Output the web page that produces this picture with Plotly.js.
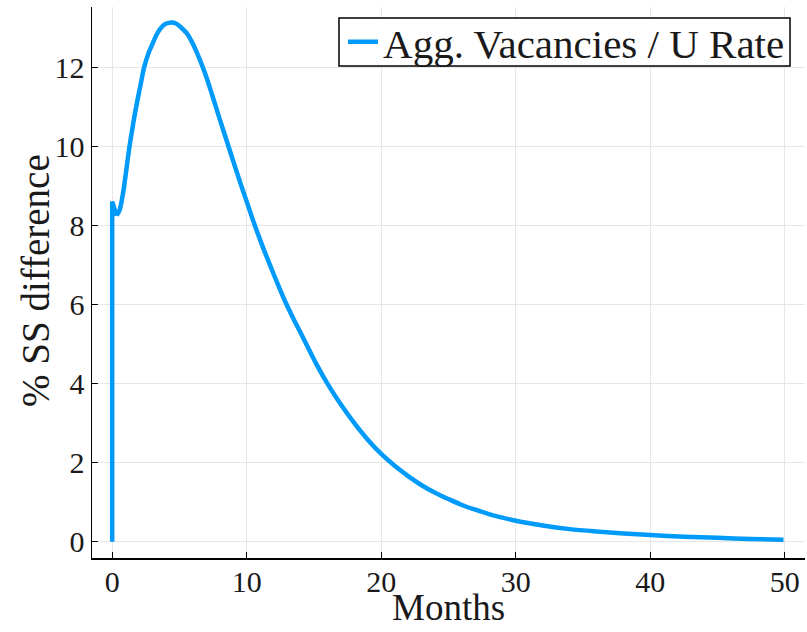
<!DOCTYPE html>
<html>
<head>
<meta charset="utf-8">
<script src="https://cdn.plot.ly/plotly-3.0.1.min.js"></script>
<style>
  html, body { margin: 0; padding: 0; background: #ffffff; }
  #chart { width: 807px; height: 632px; }
</style>
</head>
<body>
<div id="chart"></div>
<script>
// Impulse response of aggregate vacancies over the unemployment rate (months after shock)
const months = [
  0, 0, 0.33, 0.55, 0.82, 1.05, 1.29, 1.6, 1.9, 2.15, 2.38, 2.7, 3.05, 3.3, 3.6,
  3.9, 4.2, 4.44, 4.7, 5.0, 5.25, 5.54, 6.04, 6.5, 7.0, 7.5, 8.0, 8.5,
  9.0, 9.5, 10.0, 10.6, 11.2, 11.75, 12.3, 12.85, 13.5, 14.1, 14.6, 15.2,
  16.0, 17.0, 18.0, 19.0, 20.0, 21.0, 22.0, 23.0, 24.0, 25.0, 26.0, 27.0, 28.0,
  29.0, 30.0, 32.0, 34.0, 36.0, 38.0, 40.0, 42.5, 45.0, 47.5, 49.9
];
const ssDiff = [
  0, 8.6, 8.25, 8.38, 8.84, 9.4, 10.0, 10.65, 11.2, 11.62, 12.0, 12.35, 12.63, 12.82, 12.98,
  13.08, 13.12, 13.13, 13.11, 13.04, 12.96, 12.86, 12.56, 12.2, 11.75, 11.22, 10.68, 10.15,
  9.62, 9.1, 8.6, 8.0, 7.45, 6.98, 6.52, 6.08, 5.62, 5.22, 4.88, 4.48,
  4.0, 3.47, 3.0, 2.58, 2.22, 1.92, 1.66, 1.43, 1.24, 1.08, 0.93, 0.81, 0.7,
  0.61, 0.53, 0.41, 0.32, 0.26, 0.21, 0.17, 0.13, 0.10, 0.07, 0.05
];
const xTicks = [0, 10, 20, 30, 40, 50];
const yTicks = [0, 2, 4, 6, 8, 10, 12];
const seriesName = 'Agg. Vacancies / U Rate';
const xLabel = 'Months';
const yLabel = '% SS difference';

const serif = 'Liberation Serif, DejaVu Serif, serif';
const ink = '#1a1a1a';
const blue = '#009AFA';

// The jump on impact is drawn with straight segments; the rest of the path is smoothed.
const impactEnd = 3;
const impact = {
  x: months.slice(0, impactEnd),
  y: ssDiff.slice(0, impactEnd),
  type: 'scatter',
  mode: 'lines',
  showlegend: false,
  line: { color: blue, width: 4.5, shape: 'linear' }
};
const path = {
  x: months.slice(impactEnd - 1),
  y: ssDiff.slice(impactEnd - 1),
  type: 'scatter',
  mode: 'lines',
  name: seriesName,
  line: { color: blue, width: 4.5, shape: 'spline', smoothing: 0.8 }
};

const axisCommon = {
  showline: true,
  linecolor: '#000000',
  linewidth: 1.5,
  mirror: false,
  ticks: 'inside',
  ticklen: 6,
  tickwidth: 1,
  tickcolor: '#000000',
  showgrid: true,
  gridcolor: '#e6e6e6',
  gridwidth: 1,
  zeroline: false,
  tickfont: { family: serif, size: 30, color: ink }
};

const layout = {
  width: 807,
  height: 632,
  margin: { l: 92, r: 2, t: 7, b: 74 },
  paper_bgcolor: '#ffffff',
  plot_bgcolor: '#ffffff',
  showlegend: true,
  xaxis: Object.assign({}, axisCommon, {
    range: [-1.5, 51.5],
    tickvals: xTicks,
    ticktext: xTicks.map(String),
    ticklabelstandoff: -4
  }),
  yaxis: Object.assign({}, axisCommon, {
    range: [-0.41, 13.52],
    tickvals: yTicks,
    ticktext: yTicks.map(String)
  }),
  // axis titles
  annotations: [{
    text: yLabel,
    xref: 'paper', yref: 'paper',
    x: -0.080, y: 0.5045,
    xanchor: 'center', yanchor: 'middle',
    textangle: -90,
    showarrow: false,
    font: { family: serif, size: 39, color: ink }
  }, {
    text: xLabel,
    xref: 'paper', yref: 'paper',
    x: 0.5, y: -0.0907,
    xanchor: 'center', yanchor: 'middle',
    showarrow: false,
    font: { family: serif, size: 37, color: ink }
  }],
  // framed box behind the legend entry
  shapes: [{
    type: 'rect',
    xref: 'paper', yref: 'paper',
    x0: 0.3464, x1: 0.9790, y0: 0.8929, y1: 0.9800,
    fillcolor: '#ffffff',
    line: { color: '#000000', width: 1.5 },
    layer: 'above'
  }],
  legend: {
    x: 0.979,
    y: 0.9365,
    xanchor: 'right',
    yanchor: 'middle',
    bgcolor: 'rgba(0,0,0,0)',
    borderwidth: 0,
    font: { family: serif, size: 41, color: ink },
    itemwidth: 30
  }
};

Plotly.newPlot('chart', [impact, path], layout, { displayModeBar: false, staticPlot: true });
</script>
</body>
</html>
